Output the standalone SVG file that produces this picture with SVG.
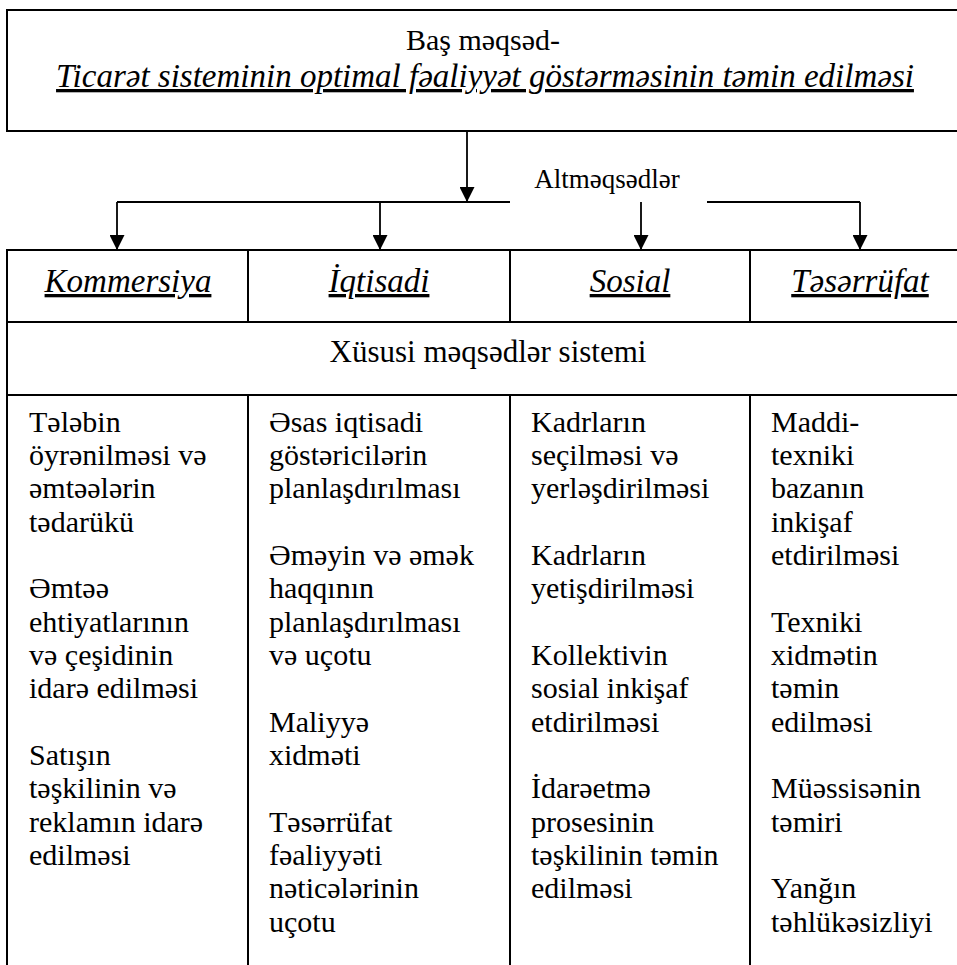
<svg xmlns="http://www.w3.org/2000/svg" width="957" height="965" viewBox="0 0 957 965">
<style>
  .frame { fill: none; stroke: #000; stroke-width: 2; }
  .ln { stroke: #000; stroke-width: 2; fill: none; }
  .conn { stroke: #000; stroke-width: 1.8; fill: none; }
  text { font-family: 'Liberation Serif', 'Times New Roman', Tinos, 'DejaVu Serif', serif; fill: #000; }
  .reg { font-size: 30px; }
  .ital { font-size: 33px; font-style: italic; text-decoration: underline; }
  .mid { text-anchor: middle; }
</style>
<defs>
  <marker id="arr" markerUnits="userSpaceOnUse" markerWidth="15" markerHeight="15" viewBox="0 0 15 15" refX="15" refY="7.5" orient="auto">
    <path d="M0,0 L15,7.5 L0,15 Z" fill="#000"/>
  </marker>
</defs>
<rect width="957" height="965" fill="#fff"/>

<g id="main-goal">
  <rect class="frame" x="7" y="10" width="980" height="121"/>
  <text class="reg mid" x="483" y="50" font-family="Liberation Serif, serif">Baş məqsəd-</text>
  <text class="ital mid" x="485" y="87">Ticarət sisteminin optimal fəaliyyət göstərməsinin təmin edilməsi</text>
</g>

<g id="subgoals-label">
  <text class="reg mid" x="607" y="188" style="font-size:27px">Altməqsədlər</text>
</g>

<g id="connectors">
  <line class="conn" x1="467" y1="131" x2="467" y2="202" marker-end="url(#arr)"/>
  <line class="conn" x1="117" y1="202" x2="510" y2="202"/>
  <line class="conn" x1="707" y1="202" x2="860" y2="202"/>
  <line class="conn" x1="117" y1="202" x2="117" y2="250" marker-end="url(#arr)"/>
  <line class="conn" x1="380" y1="202" x2="380" y2="250" marker-end="url(#arr)"/>
  <line class="conn" x1="641" y1="202" x2="641" y2="250" marker-end="url(#arr)"/>
  <line class="conn" x1="860" y1="202" x2="860" y2="250" marker-end="url(#arr)"/>
</g>

<g id="table-grid">
  <rect class="frame" x="7" y="250" width="980" height="760"/>
  <line class="ln" x1="7" y1="322" x2="987" y2="322"/>
  <line class="ln" x1="7" y1="395" x2="987" y2="395"/>
  <line class="ln" x1="248" y1="250" x2="248" y2="322"/>
  <line class="ln" x1="510" y1="250" x2="510" y2="322"/>
  <line class="ln" x1="750" y1="250" x2="750" y2="322"/>
  <line class="ln" x1="248" y1="395" x2="248" y2="965"/>
  <line class="ln" x1="510" y1="395" x2="510" y2="965"/>
  <line class="ln" x1="750" y1="395" x2="750" y2="965"/>
</g>

<g id="head-kommersiya"><text class="ital mid" x="128" y="292">Kommersiya</text></g>
<g id="head-iqtisadi"><text class="ital mid" x="379" y="292">İqtisadi</text></g>
<g id="head-sosial"><text class="ital mid" x="630" y="292">Sosial</text></g>
<g id="head-tesarrufat"><text class="ital mid" x="860" y="292">Təsərrüfat</text></g>

<g id="special-goals">
  <text class="reg mid" x="488" y="362" style="font-size:31px">Xüsusi məqsədlər sistemi</text>
</g>

<g id="col-kommersiya">
  <text class="reg" x="29">
    <tspan x="29" y="432">Tələbin</tspan>
    <tspan x="29" y="465">öyrənilməsi və</tspan>
    <tspan x="29" y="498">əmtəələrin</tspan>
    <tspan x="29" y="532">tədarükü</tspan>
    <tspan x="29" y="598">Əmtəə</tspan>
    <tspan x="29" y="632">ehtiyatlarının</tspan>
    <tspan x="29" y="665">və çeşidinin</tspan>
    <tspan x="29" y="698">idarə edilməsi</tspan>
    <tspan x="29" y="765">Satışın</tspan>
    <tspan x="29" y="798">təşkilinin və</tspan>
    <tspan x="29" y="832">reklamın idarə</tspan>
    <tspan x="29" y="865">edilməsi</tspan>
  </text>
</g>

<g id="col-iqtisadi">
  <text class="reg" x="269">
    <tspan x="269" y="432">Əsas iqtisadi</tspan>
    <tspan x="269" y="465">göstəricilərin</tspan>
    <tspan x="269" y="498">planlaşdırılması</tspan>
    <tspan x="269" y="565">Əməyin və əmək</tspan>
    <tspan x="269" y="598">haqqının</tspan>
    <tspan x="269" y="632">planlaşdırılması</tspan>
    <tspan x="269" y="665">və uçotu</tspan>
    <tspan x="269" y="732">Maliyyə</tspan>
    <tspan x="269" y="765">xidməti</tspan>
    <tspan x="269" y="832">Təsərrüfat</tspan>
    <tspan x="269" y="865">fəaliyyəti</tspan>
    <tspan x="269" y="898">nəticələrinin</tspan>
    <tspan x="269" y="932">uçotu</tspan>
  </text>
</g>

<g id="col-sosial">
  <text class="reg" x="531">
    <tspan x="531" y="432">Kadrların</tspan>
    <tspan x="531" y="465">seçilməsi və</tspan>
    <tspan x="531" y="498">yerləşdirilməsi</tspan>
    <tspan x="531" y="565">Kadrların</tspan>
    <tspan x="531" y="598">yetişdirilməsi</tspan>
    <tspan x="531" y="665">Kollektivin</tspan>
    <tspan x="531" y="698">sosial inkişaf</tspan>
    <tspan x="531" y="732">etdirilməsi</tspan>
    <tspan x="531" y="798">İdarəetmə</tspan>
    <tspan x="531" y="832">prosesinin</tspan>
    <tspan x="531" y="865">təşkilinin təmin</tspan>
    <tspan x="531" y="898">edilməsi</tspan>
  </text>
</g>

<g id="col-tesarrufat">
  <text class="reg" x="771">
    <tspan x="771" y="432">Maddi-</tspan>
    <tspan x="771" y="465">texniki</tspan>
    <tspan x="771" y="498">bazanın</tspan>
    <tspan x="771" y="532">inkişaf</tspan>
    <tspan x="771" y="565">etdirilməsi</tspan>
    <tspan x="771" y="632">Texniki</tspan>
    <tspan x="771" y="665">xidmətin</tspan>
    <tspan x="771" y="698">təmin</tspan>
    <tspan x="771" y="732">edilməsi</tspan>
    <tspan x="771" y="798">Müəssisənin</tspan>
    <tspan x="771" y="832">təmiri</tspan>
    <tspan x="771" y="898">Yanğın</tspan>
    <tspan x="771" y="932">təhlükəsizliyi</tspan>
  </text>
</g>
</svg>
